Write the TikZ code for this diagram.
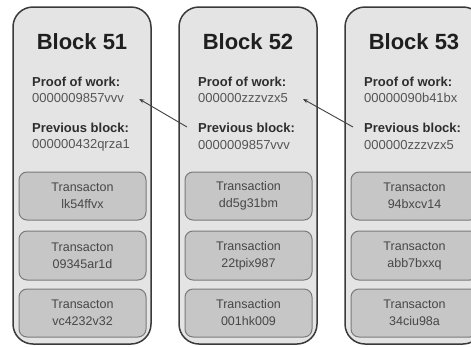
\documentclass[tikz,border=0pt]{standalone}
\usepackage{fontspec}
\setmainfont{Liberation Sans}
\usetikzlibrary{arrows.meta}
\definecolor{blockfill}{HTML}{E4E4E4}
\definecolor{blockline}{HTML}{3A3A3A}
\definecolor{txfill}{HTML}{C6C6C6}
\definecolor{txline}{HTML}{7A7A7A}
\definecolor{valtext}{HTML}{555555}
\definecolor{labtext}{HTML}{2E2E2E}
\tikzset{
  blockbox/.style={draw=blockline, line width=1.5pt, fill=blockfill, rounded corners=20pt},
  txbox/.style={draw=txline, line width=1pt, fill=txfill, rounded corners=8pt},
  titletext/.style={font=\fontsize{22}{26}\selectfont\bfseries, text=black!88, inner sep=0pt, anchor=center},
  labeltext/.style={font=\fontsize{13}{15}\selectfont\bfseries, text=labtext, inner sep=0pt, anchor=west},
  valuetext/.style={font=\fontsize{13}{15}\selectfont, text=valtext, inner sep=0pt, anchor=west},
  txtext/.style={font=\fontsize{12.5}{17}\selectfont, text=black!72, inner sep=0pt, align=center, anchor=center},
  linkarrow/.style={draw=black!75, line width=0.9pt, -{Stealth[length=5pt,width=4pt]}}
}
\begin{document}
\begin{tikzpicture}[x=1pt,y=-1pt]
\useasboundingbox (0,0) rectangle (471,346);
\begin{scope}
\clip (0,0) rectangle (471,346);
% blocks
\foreach \bx/\id in {13/51,179/52,345/53}{
  \draw[blockbox] (\bx,7) rectangle ++(138,337);
  \draw[txbox] (\bx+6,172) rectangle ++(127,48);
  \draw[txbox] (\bx+6,231) rectangle ++(127,49);
  \draw[txbox] (\bx+6,289) rectangle ++(127,48);
}
% block 51
\node[titletext] (t51) at (82,42) {Block 51};
\node[labeltext] (pow51) at (32,82) {Proof of work:};
\node[valuetext] (powv51) at (32,98) {0000009857vvv};
\node[labeltext] (prev51) at (32,128) {Previous block:};
\node[valuetext] (prevv51) at (32,145) {000000432qrza1};
\node[txtext] (tx51a) at (82.5,196) {Transacton\\lk54ffvx};
\node[txtext] (tx51b) at (82.5,255.5) {Transacton\\09345ar1d};
\node[txtext] (tx51c) at (82.5,313) {Transacton\\vc4232v32};
% block 52
\node[titletext] (t52) at (248,42) {Block 52};
\node[labeltext] (pow52) at (198,82) {Proof of work:};
\node[valuetext] (powv52) at (198,98) {000000zzzvzx5};
\node[labeltext] (prev52) at (198,128) {Previous block:};
\node[valuetext] (prevv52) at (198,145) {0000009857vvv};
\node[txtext] (tx52a) at (248.5,196) {Transaction\\dd5g31bm};
\node[txtext] (tx52b) at (248.5,255.5) {Transaction\\22tpix987};
\node[txtext] (tx52c) at (248.5,313) {Transaction\\001hk009};
% block 53
\node[titletext] (t53) at (414,42) {Block 53};
\node[labeltext] (pow53) at (364,82) {Proof of work:};
\node[valuetext] (powv53) at (364,98) {00000090b41bx};
\node[labeltext] (prev53) at (364,128) {Previous block:};
\node[valuetext] (prevv53) at (364,145) {000000zzzvzx5};
\node[txtext] (tx53a) at (414.5,196) {Transacton\\94bxcv14};
\node[txtext] (tx53b) at (414.5,255.5) {Transacton\\abb7bxxq};
\node[txtext] (tx53c) at (414.5,313) {Transacton\\34ciu98a};
% links
\draw[linkarrow] ([xshift=-11pt,yshift=1pt]prev52.west) -- ([xshift=15pt,yshift=-1pt]powv51.east);
\draw[linkarrow] ([xshift=-11pt,yshift=1pt]prev53.west) -- ([xshift=15pt,yshift=-1pt]powv52.east);
\end{scope}
\end{tikzpicture}
\end{document}
